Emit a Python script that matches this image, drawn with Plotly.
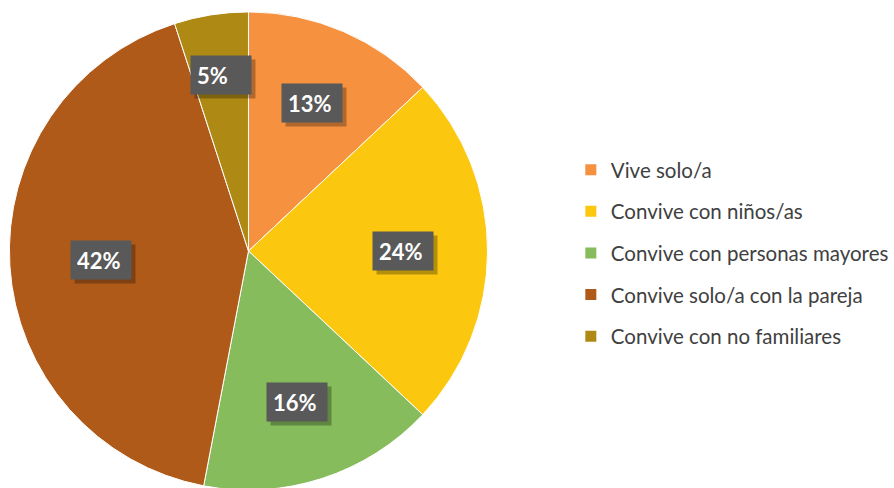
import math
import plotly.graph_objects as go

categories = ["Vive solo/a", "Convive con niños/as", "Convive con personas mayores",
              "Convive solo/a con la pareja", "Convive con no familiares"]
values = [13, 24, 16, 42, 5]
colors = ["#F5913F", "#FCC70F", "#86BC5B", "#B05A19", "#AE8A14"]

# style: radial placement of each label (fraction of radius)
label_radius = [0.67, 0.647, 0.657, 0.62, 0.737]

W, H = 894, 494          # page viewport is 488 tall; pie bottom is cropped like the original
cx_px, cy_px, r_px = 251, 251, 241.5

fig = go.Figure()
fig.add_trace(go.Pie(
    labels=categories, values=values, sort=False, direction="clockwise", rotation=0,
    marker=dict(colors=colors, line=dict(color="white", width=1)),
    textinfo="none", hoverinfo="label+percent", showlegend=False,
    domain=dict(x=[(cx_px - r_px) / W, (cx_px + r_px) / W],
                y=[1 - (cy_px + r_px) / H, 1 - (cy_px - r_px) / H]),
))

# legend entries
for cat, col in zip(categories, colors):
    fig.add_trace(go.Scatter(x=[None], y=[None], mode="markers", name=cat,
                             legendgroup=cat,
                             marker=dict(symbol="square", size=11, color=col)))

# labels
total = sum(values)
cum = 0
for v, f in zip(values, label_radius):
    mid = (cum + v / 2) / total * 2 * math.pi
    cum += v
    px = cx_px + f * r_px * math.sin(mid)
    py = cy_px - f * r_px * math.cos(mid)
    xp, yp = px / W, 1 - py / H
    txt = f"{round(v / total * 100)}%"
    common = dict(x=xp, y=yp, xref="paper", yref="paper", showarrow=False,
                  xanchor="center", yanchor="middle", width=48, height=26,
                  borderpad=6, align="left")
    # shadow
    fig.add_annotation(text=" ", bgcolor="rgba(0,0,0,0.28)", xshift=4, yshift=-4,
                       font=dict(size=22), **common)
    fig.add_annotation(text=f"<b>{txt}</b>", bgcolor="#595959",
                       font=dict(family="Lato", size=22, color="white"), **common)

fig.update_layout(
    width=W, height=H, margin=dict(l=0, r=0, t=0, b=0),
    paper_bgcolor="white", plot_bgcolor="white",
    xaxis=dict(visible=False), yaxis=dict(visible=False),
    legend=dict(x=0.645, y=1 - 253.3 / H, xanchor="left", yanchor="middle",
                font=dict(family="Lato", size=20.5, color="#404040"),
                tracegroupgap=12, itemwidth=30, bgcolor="rgba(0,0,0,0)"),
)
fig.write_html(
    "out.html", config={"displayModeBar": False},
    post_script=("document.body.style.margin='0';"
                 "document.body.style.overflow='hidden';"
                 "document.documentElement.style.overflow='hidden';"),
)
